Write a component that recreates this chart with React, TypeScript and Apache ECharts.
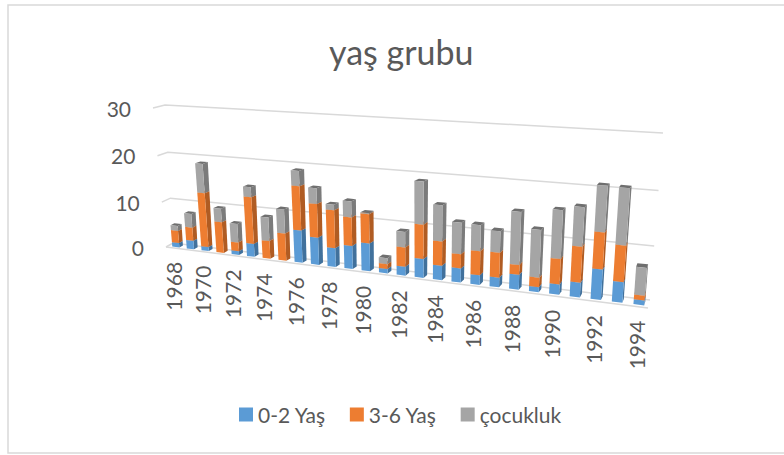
import React, { useEffect, useRef } from "react";
import * as echarts from "echarts";

const years = [1968,1969,1970,1971,1972,1973,1974,1975,1976,1977,1978,1979,1980,1981,1982,1983,1984,1985,1986,1987,1988,1989,1990,1991,1992,1993,1994];
const infants = [1.0,1.9,0.9,0,0.8,2.8,0,0,6.8,5.7,3.9,4.8,5.7,0.9,1.8,3.8,2.9,2.8,1.9,1.9,2.9,1.0,2.0,2.8,5.7,3.8,0.9];
const preschool = [2.7,2.9,11.7,6.7,1.9,9.9,3.8,5.8,9.1,6.9,7.8,5.8,5.9,1.0,3.9,6.8,4.8,2.8,4.7,4.8,1.9,1.8,4.8,6.7,6.8,6.7,0.9];
const childhood = [1.1,3.0,6.2,2.9,4.0,2.1,5.0,5.0,3.1,3.2,1.1,3.2,0.2,1.2,3.1,8.3,7.0,6.1,5.0,4.1,10.0,9.0,9.0,7.2,8.3,10.2,5.1];
const yTicks = [0, 10, 20, 30];
const labelledYears = [1968,1970,1972,1974,1976,1978,1980,1982,1984,1986,1988,1990,1992,1994];
const seriesNames = ["0-2 Yaş", "3-6 Yaş", "çocukluk"];

const FONT = "Lato";
const TEXT = "#595959";
const GRIDLINE = "#d9d9d9";
const FACE = ["#5b9bd5", "#ed7d31", "#a5a5a5"];
const SIDE = ["#41719c", "#b05c23", "#7b7b7b"];
const TOP = ["#5b9bd5", "#ed7d31", "#6f6f6f"];

type P = [number, number];

// Square-to-quad projective map: corners are (u,w) = (0,0), (1,0), (1,1), (0,1)
function homography(p0: P, p1: P, p2: P, p3: P) {
  const dx1 = p1[0] - p2[0], dx2 = p3[0] - p2[0], sx = p0[0] - p1[0] + p2[0] - p3[0];
  const dy1 = p1[1] - p2[1], dy2 = p3[1] - p2[1], sy = p0[1] - p1[1] + p2[1] - p3[1];
  const den = dx1 * dy2 - dx2 * dy1;
  const g = (sx * dy2 - dx2 * sy) / den;
  const h = (dx1 * sy - sx * dy1) / den;
  const a = p1[0] - p0[0] + g * p1[0], b = p3[0] - p0[0] + h * p3[0], c = p0[0];
  const d = p1[1] - p0[1] + g * p1[1], e = p3[1] - p0[1] + h * p3[1], f = p0[1];
  return (u: number, w: number): P => {
    const q = g * u + h * w + 1;
    return [(a * u + b * w + c) / q, (d * u + e * w + f) / q];
  };
}

// The tilted chart box: its front and back planes
const frontPlane = homography([166, 247], [648, 308], [661, 136], [153, 108]);
const backPlane = homography([173, 243], [650, 300], [663, 133], [165, 105]);
const project = (u: number, w: number, depth: number): P => {
  const f = frontPlane(u, w), b = backPlane(u, w);
  return [f[0] + (b[0] - f[0]) * depth, f[1] + (b[1] - f[1]) * depth];
};

const BAR_WIDTH = 0.49;
const BAR_SHIFT = 0.06;
const DEPTH_NEAR = 0.25;
const DEPTH_FAR = 0.75;

function toUnit(params: any, pos: number[]): P {
  const c = params.coordSys;
  return [(pos[0] - c.x) / c.width, (c.y + c.height - pos[1]) / c.height];
}

const barRenderer = (stackIndex: number) => (params: any, api: any) => {
  const i = api.value(0), lo = api.value(1), hi = api.value(2);
  if (hi - lo <= 0) return undefined;
  const band = api.size([1, 0])[0];
  const corner = (val: number, side: number, depth: number) => {
    const pos = api.coord([i, val]);
    const [u, w] = toUnit(params, [pos[0] + (BAR_SHIFT + (side * BAR_WIDTH) / 2) * band, pos[1]]);
    return project(u, w, depth);
  };
  const fl = corner(lo, -1, DEPTH_NEAR), fr = corner(lo, 1, DEPTH_NEAR);
  const tl = corner(hi, -1, DEPTH_NEAR), tr = corner(hi, 1, DEPTH_NEAR);
  const br = corner(lo, 1, DEPTH_FAR), btr = corner(hi, 1, DEPTH_FAR), btl = corner(hi, -1, DEPTH_FAR);
  return {
    type: "group",
    children: [
      { type: "polygon", shape: { points: [fr, br, btr, tr] }, style: { fill: SIDE[stackIndex] } },
      { type: "polygon", shape: { points: [tl, tr, btr, btl] }, style: { fill: TOP[stackIndex] } },
      { type: "polygon", shape: { points: [fl, fr, tr, tl] }, style: { fill: FACE[stackIndex] } },
    ],
  };
};

const gridRenderer = (params: any, api: any) => {
  const val = api.value(1);
  const [, w] = toUnit(params, api.coord([0, val]));
  const children: any[] = [
    {
      type: "polyline",
      shape: { points: [project(0, w, 0), project(0, w, 1), project(1, w, 1)] },
      style: { stroke: GRIDLINE, lineWidth: 1.5, fill: "none" },
    },
  ];
  if (val === 0) {
    children.push({
      type: "polyline",
      shape: { points: [project(0, w, 0), project(1, w, 0)] },
      style: { stroke: GRIDLINE, lineWidth: 1.5, fill: "none" },
    });
  }
  const a = project(0, w, 0);
  children.push({
    type: "text",
    x: a[0] - 22,
    y: a[1],
    style: { text: String(val), align: "right", verticalAlign: "middle", font: `21px ${FONT}`, fill: TEXT },
  });
  return { type: "group", children };
};

const yearRenderer = (params: any, api: any) => {
  const [u] = toUnit(params, api.coord([api.value(0), 0]));
  const a = project(u, 0, 0);
  return {
    type: "text",
    x: a[0],
    y: a[1] + 14,
    rotation: Math.PI / 2,
    style: { text: String(api.value(2)), align: "right", verticalAlign: "middle", font: `21px ${FONT}`, fill: TEXT },
  };
};

export default function App() {
  const ref = useRef<HTMLDivElement>(null);
  useEffect(() => {
    if (!ref.current) return;
    const chart = echarts.init(ref.current, undefined, { renderer: "svg" });
    let b = years.map(() => 0);
    const stacks = [infants, preschool, childhood].map((vals, s) => {
      const data = vals.map((v, i) => [i, b[i], +(b[i] + v).toFixed(2)]);
      b = data.map((d) => d[2]);
      return {
        type: "custom" as const,
        name: seriesNames[s],
        renderItem: barRenderer(s),
        itemStyle: { color: FACE[s] },
        encode: { x: 0, y: [1, 2] },
        clip: false,
        z: 3,
        data,
      };
    });
    chart.setOption({
      animation: false,
      backgroundColor: "#ffffff",
      title: {
        text: "yaş grubu",
        left: 324,
        top: 29,
        textStyle: { fontFamily: FONT, fontSize: 34, fontWeight: "normal", color: TEXT },
      },
      legend: {
        data: seriesNames,
        left: 234,
        top: 399,
        icon: "rect",
        itemWidth: 14,
        itemHeight: 14,
        itemGap: 24,
        textStyle: { fontFamily: FONT, fontSize: 21, color: TEXT },
      },
      grid: { left: 170, top: 105, width: 480, height: 195 },
      xAxis: { type: "category", data: years, show: false },
      yAxis: { type: "value", min: 0, max: 30, interval: 10, show: false },
      graphic: [
        {
          type: "polyline",
          shape: { points: [[784, 5], [8, 5], [8, 453], [784, 453]] },
          style: { stroke: GRIDLINE, lineWidth: 1.5, fill: "none" },
          z: 0,
        },
      ],
      series: [
        {
          type: "custom",
          renderItem: gridRenderer,
          encode: { x: 0, y: 1 },
          clip: false,
          z: 2,
          silent: true,
          data: yTicks.map((t) => [0, t]),
        },
        ...stacks,
        {
          type: "custom",
          renderItem: yearRenderer,
          encode: { x: 0, y: 1 },
          clip: false,
          z: 2,
          silent: true,
          data: labelledYears.map((y) => [years.indexOf(y), 0, y]),
        },
      ],
    });
    return () => chart.dispose();
  }, []);
  return <div ref={ref} style={{ position: "absolute", left: 0, top: 0, width: 784, height: 455 }} />;
}
